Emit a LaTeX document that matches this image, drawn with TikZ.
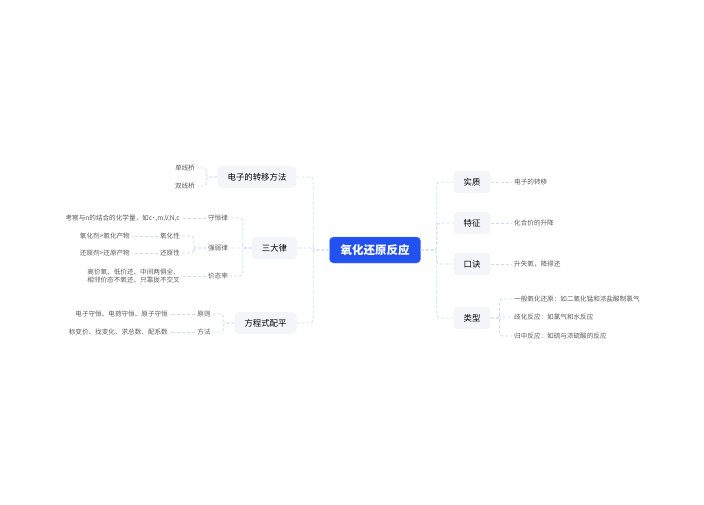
\documentclass[tikz,border=0pt]{standalone}
\usepackage{fontspec}
\newfontfamily\cjk{Noto Sans CJK SC}
\usepackage{tikz}
\usetikzlibrary{calc}
\definecolor{rootblue}{HTML}{2251F0}
\definecolor{boxgray}{HTML}{F4F5F9}
\definecolor{linkblue}{HTML}{D0DAF3}
\definecolor{leafgray}{HTML}{5A5A5A}

\begin{document}
\begin{tikzpicture}[x=1pt, y=-1pt,
    root/.style={draw=rootblue!70, fill=rootblue, rounded corners=4pt, text=white,
        font=\cjk\fontsize{11.5}{13}\selectfont\bfseries, minimum height=26pt, inner xsep=11pt},
    topic/.style={fill=boxgray, rounded corners=4pt, text=black,
        font=\cjk\fontsize{8.4}{10}\selectfont, minimum height=22pt, inner xsep=10pt},
    sub/.style={text=leafgray, font=\cjk\fontsize{6.6}{8}\selectfont, inner sep=2pt},
    leaf/.style={text=leafgray, font=\cjk\fontsize{6.6}{8.5}\selectfont, inner sep=2pt, align=center},
    link/.style={draw=linkblue, line width=0.8pt, dash pattern=on 3pt off 2pt, rounded corners=3pt}]
    \useasboundingbox (0,0) rectangle (704,504);
    %%%%%%%%%%%%%%% Center
    \node[root] (root) at (375,250) {氧化还原反应};
    %%%%%%%%%%%%%%% Left topics
    \node[topic] (transfer) at (257,177) {电子的转移方法};
    \node[topic] (laws) at (274.5,248) {三大律};
    \node[topic] (balance) at (265.5,323) {方程式配平};
    \foreach \n in {transfer,laws,balance} {
        \draw[link] (root.west) -- ++(-16,0) |- (\n.east);
    }
    %%%%%%%%%%%%%%% Right topics
    \node[topic] (essence) at (472,182) {实质};
    \node[topic] (feature) at (472,223) {特征};
    \node[topic] (rhyme) at (472,264) {口诀};
    \node[topic] (kind) at (472,318) {类型};
    \foreach \n in {essence,feature,rhyme,kind} {
        \draw[link] (root.east) -- ++(16,0) |- (\n.west);
    }
    %%%%%%%%%%%%%%% Right leaves
    \node[leaf, anchor=west] (essleaf) at (512,182) {电子的转移};
    \node[leaf, anchor=west] (featleaf) at (512,223) {化合价的升降};
    \node[leaf, anchor=west] (rhymeleaf) at (512,264) {升失氧，降得还};
    \draw[link] (essence.east) -- (essleaf.west);
    \draw[link] (feature.east) -- (featleaf.west);
    \draw[link] (rhyme.east) -- (rhymeleaf.west);
    \foreach \t/\y [count=\i] in {一般氧化还原：如二氧化锰和浓盐酸制氯气/299, 歧化反应：如氯气和水反应/317, 归中反应：如硫与浓硫酸的反应/336} {
        \node[leaf, anchor=west] (kind\i) at (512,\y) {\t};
        \draw[link] (kind.east) -- ++(9,0) |- (kind\i.west);
    }
    %%%%%%%%%%%%%%% Transfer methods
    \node[leaf, anchor=east] (single) at (197,168) {单线桥};
    \node[leaf, anchor=east] (double) at (197,186) {双线桥};
    \foreach \n in {single,double} {
        \draw[link] (transfer.west) -- ++(-11,0) |- (\n.east);
    }
    %%%%%%%%%%%%%%% Three laws
    \node[sub] (conserve) at (218,218) {守恒律};
    \node[sub] (strength) at (218,248) {强弱律};
    \node[sub] (valence) at (218,276) {价态率};
    \foreach \n in {conserve,strength,valence} {
        \draw[link] (laws.west) -- ++(-9,0) |- (\n.east);
    }
    \node[leaf, anchor=east] (conleaf) at (182,218) {考察与n的结合的化学量，如c˙,m,V,N,c};
    \draw[link] (conserve.west) -- (conleaf.east);
    \node[sub] (oxid) at (170,236) {氧化性};
    \node[sub] (redu) at (170,253) {还原性};
    \foreach \n in {oxid,redu} {
        \draw[link] (strength.west) -- ++(-12,0) |- (\n.east);
    }
    \node[leaf, anchor=east] (oxleaf) at (132,236) {氧化剂>氧化产物};
    \node[leaf, anchor=east] (redleaf) at (132,253) {还原剂>还原产物};
    \draw[link] (oxid.west) -- (oxleaf.east);
    \draw[link] (redu.west) -- (redleaf.east);
    \node[leaf, anchor=east] (valleaf) at (182,276) {高价氧、低价还、中间两俱全、\\相邻价态不氧还、只靠拢不交叉};
    \draw[link] (valence.west) -- (valleaf.east);
    %%%%%%%%%%%%%%% Balancing
    \node[sub] (rule) at (204,314) {原则};
    \node[sub] (method) at (204,332) {方法};
    \foreach \n in {rule,method} {
        \draw[link] (balance.west) -- ++(-11,0) |- (\n.east);
    }
    \node[leaf, anchor=east] (ruleleaf) at (170,314) {电子守恒、电荷守恒、原子守恒};
    \node[leaf, anchor=east] (methleaf) at (170,332) {标变价、找变化、求总数、配系数};
    \draw[link] (rule.west) -- (ruleleaf.east);
    \draw[link] (method.west) -- (methleaf.east);
\end{tikzpicture}
\end{document}
